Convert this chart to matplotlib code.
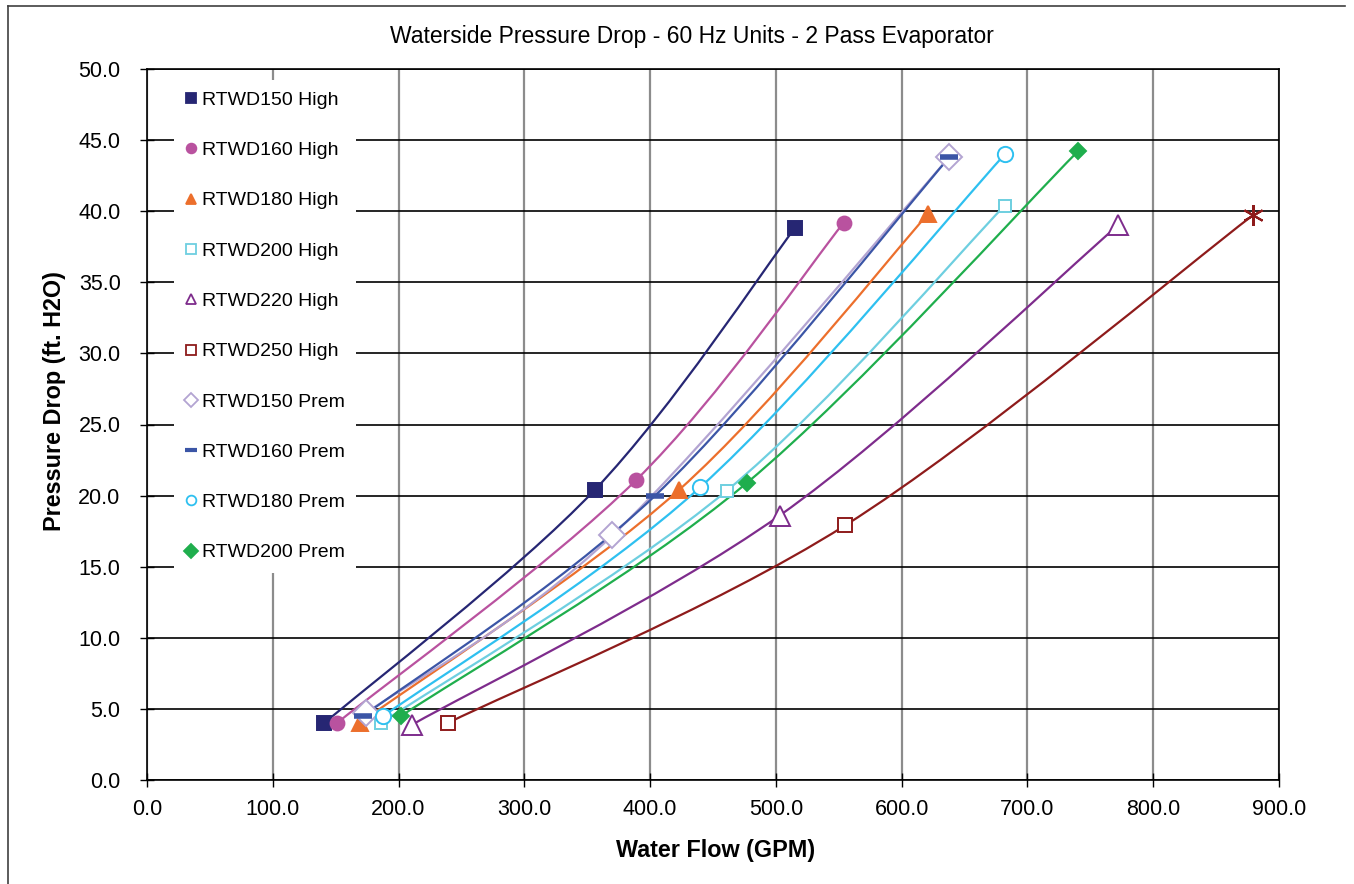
import matplotlib
matplotlib.use('Agg')
from matplotlib import pyplot as plt
from matplotlib.path import Path
from matplotlib.patches import PathPatch
from matplotlib.lines import Line2D
from matplotlib.ticker import FormatStrFormatter, MultipleLocator

plt.rcParams['font.family'] = ['Liberation Sans', 'DejaVu Sans']

# series values (GPM, ft. H2O)
names = ['RTWD150 High', 'RTWD160 High', 'RTWD180 High', 'RTWD200 High', 'RTWD220 High',
         'RTWD250 High', 'RTWD150 Prem', 'RTWD160 Prem', 'RTWD180 Prem', 'RTWD200 Prem']
flow = [
    [141, 356, 515],
    [151, 389, 554],
    [169, 423, 621],
    [186, 461, 682],
    [211, 503, 772],
    [239, 555, 879],
    [174, 370, 638],
    [172, 404, 638],
    [188, 440, 682],
    [202, 477, 740],
]
drop = [
    [4.0, 20.4, 38.8],
    [4.0, 21.1, 39.2],
    [4.0, 20.4, 39.8],
    [4.0, 20.35, 40.4],
    [3.9, 18.6, 39.0],
    [4.0, 17.9, 39.7],
    [4.7, 17.2, 43.8],
    [4.5, 20.0, 43.8],
    [4.5, 20.6, 44.0],
    [4.5, 20.9, 44.2],
]

colors = ['#262673', '#B9529F', '#EC6F2C', '#6ECFE0', '#7E2C8C',
          '#8E1B1B', '#B3A4D2', '#3B55A6', '#2EC0F0', '#1FAE4D']
markers = ['s', 'o', '^', 's', '^', 's', 'D', '_', 'o', 'D']
filled = [True, True, True, False, False, False, False, True, False, True]
msizes = [10, 10, 11, 9, 15, 10, 13, 13, 11, 8]


def smooth_path(xs, ys):
    # excel style smoothed line: cubic bezier through the points
    pts = list(zip(xs, ys))
    n = len(pts)
    verts = [pts[0]]
    codes = [Path.MOVETO]
    for i in range(n - 1):
        p0 = pts[i - 1] if i > 0 else pts[i]
        p1 = pts[i]
        p2 = pts[i + 1]
        p3 = pts[i + 2] if i + 2 < n else pts[i + 1]
        c1 = (p1[0] + (p2[0] - p0[0]) / 6, p1[1] + (p2[1] - p0[1]) / 6)
        c2 = (p2[0] - (p3[0] - p1[0]) / 6, p2[1] - (p3[1] - p1[1]) / 6)
        verts += [c1, c2, p2]
        codes += [Path.CURVE4] * 3
    return Path(verts, codes)


fig = plt.figure(figsize=(13.54, 8.84), dpi=100)
ax = fig.add_axes([147 / 1354, 1 - 780 / 884, (1279 - 147) / 1354, (780 - 69) / 884])

ax.set_xlim(0, 900)
ax.set_ylim(0, 50)
ax.xaxis.set_major_locator(MultipleLocator(100))
ax.yaxis.set_major_locator(MultipleLocator(5))
ax.xaxis.set_major_formatter(FormatStrFormatter('%.1f'))
ax.yaxis.set_major_formatter(FormatStrFormatter('%.1f'))
ax.tick_params(direction='inout', length=10, width=1, labelsize=15.5)
ax.tick_params(axis='y', pad=14)
ax.tick_params(axis='x', pad=9)
ax.xaxis.grid(True, color='#8C8C8C', linewidth=1.6, zorder=0)
ax.yaxis.grid(True, color='#000000', linewidth=1.2, zorder=0)
ax.set_axisbelow(True)
for s in ax.spines.values():
    s.set_linewidth(1.2)
    s.set_color('black')

handles = []
for i in range(len(names)):
    c = colors[i]
    ax.add_patch(PathPatch(smooth_path(flow[i], drop[i]), facecolor='none',
                           edgecolor=c, linewidth=1.6, zorder=2 + i * 0.1))
    fc = c if filled[i] else 'white'
    mew = 4 if markers[i] == '_' else 1.4
    xs = flow[i]
    ys = drop[i]
    if i == 5:
        # last point of this series is shown as an asterisk
        xs, ys = flow[i][:2], drop[i][:2]
        ax.plot(flow[i][2:], drop[i][2:], linestyle='none', marker=(6, 2, 0),
                markersize=15, markeredgecolor=c, markeredgewidth=1.5, zorder=3 + i * 0.1)
    ax.plot(xs, ys, linestyle='none', marker=markers[i], markersize=msizes[i],
            markerfacecolor=fc, markeredgecolor=c, markeredgewidth=mew, zorder=3 + i * 0.1)
    handles.append(Line2D([], [], linestyle='none', marker=markers[i],
                          markersize=7 if markers[i] != '_' else 9,
                          markerfacecolor=fc, markeredgecolor=c,
                          markeredgewidth=3 if markers[i] == '_' else 1.3))

leg = ax.legend(handles, names, loc='upper left', bbox_to_anchor=(0.0235, 0.985),
                fontsize=14, frameon=True, facecolor='white', edgecolor='none',
                framealpha=1, fancybox=False, handlelength=0.6, handletextpad=0.25,
                labelspacing=1.68, borderpad=0.6, borderaxespad=0)
leg.set_zorder(5)

fig.text(692 / 1354, 1 - 36 / 884, 'Waterside Pressure Drop - 60 Hz Units - 2 Pass Evaporator',
         ha='center', va='center', fontsize=16.5)
fig.text(716 / 1354, 1 - 851 / 884, 'Water Flow (GPM)', ha='center', va='center',
         fontsize=16.8, fontweight='bold')
fig.text(55 / 1354, 1 - 401 / 884, 'Pressure Drop (ft. H2O)', ha='center', va='center',
         fontsize=16.8, fontweight='bold', rotation=90)

# chart area border (top and left edges visible)
fig.add_artist(Line2D([8 / 1354, 8 / 1354], [0, 1 - 6 / 884], color='#404040', linewidth=1.2))
fig.add_artist(Line2D([8 / 1354, 1345 / 1354], [1 - 6 / 884, 1 - 6 / 884], color='#404040', linewidth=1.2))

fig.savefig('out.png', dpi=100, facecolor='white')
